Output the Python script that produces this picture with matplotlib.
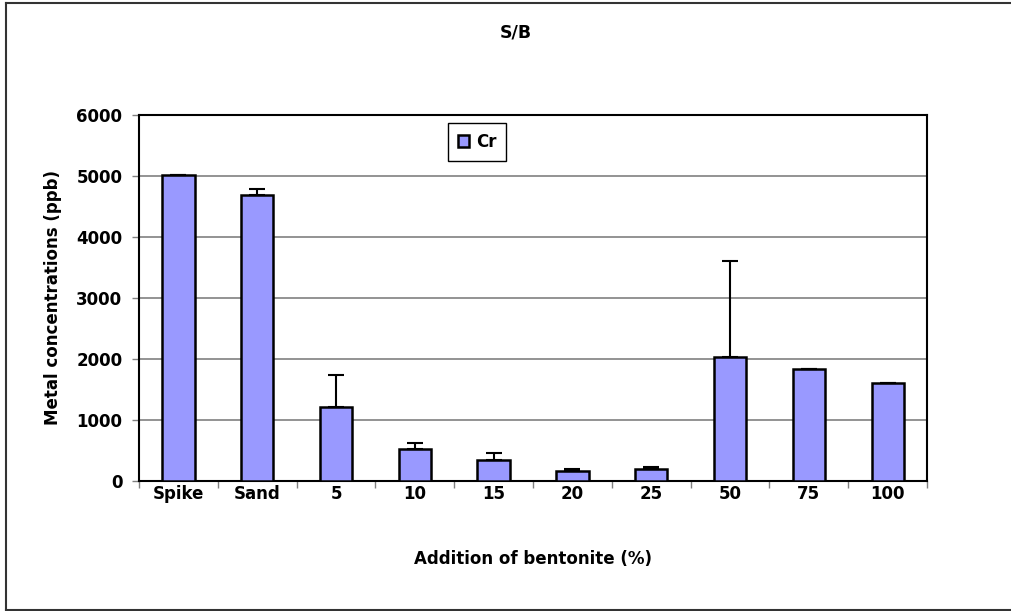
import matplotlib
matplotlib.use("Agg")
import matplotlib.pyplot as plt
import numpy as np
from matplotlib.lines import Line2D

plt.rcParams['font.family'] = ['DejaVu Sans']
plt.rcParams['font.weight'] = 'bold'

# datos
categorias = ["Spike", "Sand", "5", "10", "15", "20", "25", "50", "75", "100"]
cr = [5020, 4690, 1210, 520, 350, 160, 190, 2030, 1830, 1600]
cr_err = [0, 90, 520, 100, 105, 35, 40, 1570, 0, 0]

fig = plt.figure(figsize=(10.11, 6.11), dpi=100)
ax = fig.add_axes([0.1375, 0.2128, 0.7795, 0.599])

x = np.arange(len(categorias))
ax.bar(x, cr, width=0.41, color="#9999FF", edgecolor="black", linewidth=1.8,
       label="Cr", zorder=3)
ax.errorbar(x, cr, yerr=[np.zeros(len(cr)), cr_err], fmt="none", ecolor="black",
            elinewidth=1.5, capsize=5.5, capthick=1.5, zorder=4)

ax.set_xlim(-0.5, len(categorias) - 0.5)
ax.set_ylim(0, 6000)
ax.set_yticks(np.arange(0, 6001, 1000))
ax.yaxis.grid(True, color="#808080", linewidth=1.2, zorder=0)
ax.set_axisbelow(True)

ax.set_xticks(x)
ax.set_xticklabels(categorias)
ax.set_xticks(np.arange(-0.5, len(categorias), 1), minor=True)
ax.tick_params(axis="x", which="major", length=0, pad=3, labelsize=12)
ax.tick_params(axis="x", which="minor", length=5, width=1, color="#808080")
ax.tick_params(axis="y", length=5, width=1, color="#808080", labelsize=12, pad=7)
for s in ax.spines.values():
    s.set_linewidth(1.5)

ax.set_xlabel("Addition of bentonite (%)", fontsize=12, fontweight="bold", labelpad=34)
ax.set_ylabel("Metal concentrations (ppb)", fontsize=12, fontweight="bold", labelpad=10.5)
fig.text(0.51, 0.946, "S/B", ha="center", va="center", fontsize=12.5, fontweight="bold")

leg = ax.legend(loc="upper left", bbox_to_anchor=(0.3915, 0.978), fancybox=False,
                edgecolor="black", framealpha=1, fontsize=12, handlelength=0.7,
                handleheight=0.7, borderpad=0.6, handletextpad=0.4, borderaxespad=0)
leg.get_frame().set_linewidth(1)

# marco exterior (sin borde derecho, queda fuera de la imagen)
x0, y0, y1 = 5.5 / 1011, 1.5 / 611, 1 - 2.5 / 611
for xs, ys in [([x0, x0], [y0, y1]), ([x0, 1], [y1, y1]), ([x0, 1], [y0, y0])]:
    fig.add_artist(Line2D(xs, ys, transform=fig.transFigure, color="#333333", linewidth=1.5))

fig.savefig("out.png", dpi=100)
